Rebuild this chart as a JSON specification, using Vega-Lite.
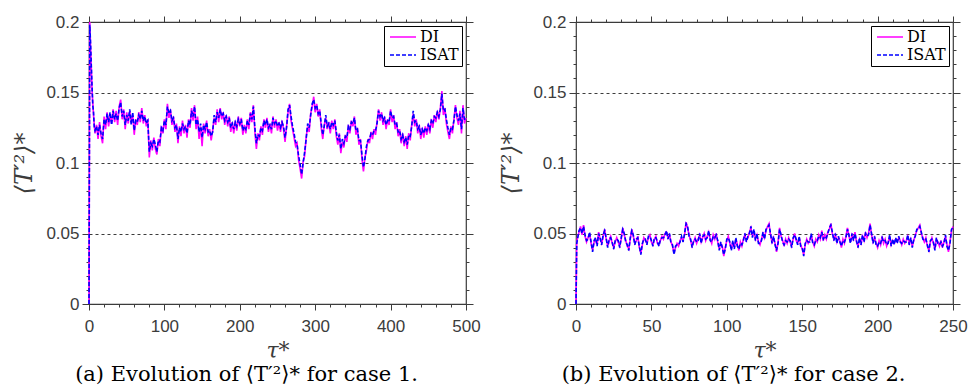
{
"$schema": "https://vega.github.io/schema/vega-lite/v6.json",
"background": "white",
"padding": {"left": 12, "top": 12, "right": 2, "bottom": 2},
"spacing": 110,
"bounds": "flush",
"resolve": {"scale": {"x": "independent", "y": "independent", "color": "independent", "strokeDash": "independent"}, "legend": {"color": "independent", "strokeDash": "independent"}},
"config": {
  "view": {"stroke": "#3a3a3a", "strokeWidth": 1.2},
  "axis": {"domain": false, "labelFont": "Liberation Sans", "labelFontSize": 17, "labelColor": "#3c3c3c", "tickColor": "#3c3c3c", "tickWidth": 1, "gridColor": "#3c3c3c", "gridDash": [3, 3], "gridWidth": 1, "labelOverlap": false, "labelFlush": false, "labelBound": false, "titleColor": "#3c3c3c", "titleFont": "DejaVu Serif", "titleFontWeight": "normal", "titleFontStyle": "italic"},
  "legend": {"orient": "top-right", "offset": 4, "padding": 3, "strokeColor": "black", "fillColor": "white", "labelFont": "DejaVu Serif", "labelFontSize": 16, "labelColor": "black", "symbolType": "M-2,0H2", "symbolSize": 169, "symbolStrokeWidth": 1.5, "symbolOffset": 8, "rowPadding": 2, "labelOffset": 9},
  "title": {"font": "DejaVu Serif", "fontSize": 21, "fontWeight": "normal", "color": "black", "orient": "bottom", "anchor": "middle", "frame": "bounds", "offset": 3}
},
"datasets": {
"caseA": [
{"t":0,"DI":0,"ISAT":0},{"t":1,"DI":0.2,"ISAT":0.198},{"t":2,"DI":0.183,"ISAT":0.186},{"t":3,"DI":0.168,"ISAT":0.17},{"t":4,"DI":0.152,"ISAT":0.155},{"t":5,"DI":0.143,"ISAT":0.141},{"t":6,"DI":0.134,"ISAT":0.136},{"t":7,"DI":0.127,"ISAT":0.125},{"t":8,"DI":0.121,"ISAT":0.123},
{"t":10,"DI":0.127,"ISAT":0.126},{"t":12,"DI":0.117,"ISAT":0.12},{"t":14,"DI":0.129,"ISAT":0.127},{"t":16,"DI":0.119,"ISAT":0.121},{"t":18,"DI":0.114,"ISAT":0.117},{"t":20,"DI":0.133,"ISAT":0.131},{"t":22,"DI":0.124,"ISAT":0.127},{"t":24,"DI":0.136,"ISAT":0.135},{"t":26,"DI":0.126,"ISAT":0.129},{"t":28,"DI":0.134,"ISAT":0.136},
{"t":30,"DI":0.128,"ISAT":0.127},{"t":32,"DI":0.138,"ISAT":0.137},{"t":34,"DI":0.129,"ISAT":0.131},{"t":36,"DI":0.137,"ISAT":0.135},{"t":38,"DI":0.127,"ISAT":0.13},{"t":40,"DI":0.14,"ISAT":0.139},{"t":42,"DI":0.145,"ISAT":0.143},{"t":44,"DI":0.131,"ISAT":0.133},{"t":46,"DI":0.138,"ISAT":0.137},{"t":48,"DI":0.124,"ISAT":0.127},
{"t":50,"DI":0.136,"ISAT":0.134},{"t":52,"DI":0.128,"ISAT":0.13},{"t":54,"DI":0.137,"ISAT":0.138},{"t":56,"DI":0.129,"ISAT":0.127},{"t":58,"DI":0.134,"ISAT":0.136},{"t":60,"DI":0.12,"ISAT":0.123},{"t":62,"DI":0.131,"ISAT":0.13},{"t":64,"DI":0.127,"ISAT":0.129},{"t":66,"DI":0.136,"ISAT":0.134},{"t":68,"DI":0.129,"ISAT":0.131},
{"t":70,"DI":0.139,"ISAT":0.137},{"t":72,"DI":0.128,"ISAT":0.13},{"t":74,"DI":0.134,"ISAT":0.133},{"t":76,"DI":0.126,"ISAT":0.128},{"t":78,"DI":0.131,"ISAT":0.13},{"t":80,"DI":0.104,"ISAT":0.108},{"t":82,"DI":0.116,"ISAT":0.114},{"t":84,"DI":0.109,"ISAT":0.112},{"t":86,"DI":0.118,"ISAT":0.117},{"t":88,"DI":0.11,"ISAT":0.113},
{"t":90,"DI":0.106,"ISAT":0.108},{"t":92,"DI":0.117,"ISAT":0.116},{"t":94,"DI":0.112,"ISAT":0.115},{"t":96,"DI":0.126,"ISAT":0.125},{"t":98,"DI":0.121,"ISAT":0.123},{"t":100,"DI":0.131,"ISAT":0.13},{"t":102,"DI":0.124,"ISAT":0.127},{"t":104,"DI":0.142,"ISAT":0.14},{"t":106,"DI":0.132,"ISAT":0.135},{"t":108,"DI":0.138,"ISAT":0.137},
{"t":110,"DI":0.127,"ISAT":0.13},{"t":112,"DI":0.133,"ISAT":0.132},{"t":114,"DI":0.122,"ISAT":0.125},{"t":116,"DI":0.128,"ISAT":0.127},{"t":118,"DI":0.114,"ISAT":0.117},{"t":120,"DI":0.126,"ISAT":0.125},{"t":122,"DI":0.119,"ISAT":0.122},{"t":124,"DI":0.13,"ISAT":0.128},{"t":126,"DI":0.121,"ISAT":0.124},{"t":128,"DI":0.127,"ISAT":0.126},
{"t":130,"DI":0.118,"ISAT":0.121},{"t":132,"DI":0.131,"ISAT":0.13},{"t":134,"DI":0.125,"ISAT":0.127},{"t":136,"DI":0.139,"ISAT":0.137},{"t":138,"DI":0.13,"ISAT":0.133},{"t":140,"DI":0.141,"ISAT":0.14},{"t":142,"DI":0.124,"ISAT":0.127},{"t":144,"DI":0.133,"ISAT":0.131},{"t":146,"DI":0.117,"ISAT":0.122},{"t":148,"DI":0.126,"ISAT":0.128},
{"t":150,"DI":0.112,"ISAT":0.118},{"t":152,"DI":0.128,"ISAT":0.127},{"t":154,"DI":0.121,"ISAT":0.124},{"t":156,"DI":0.13,"ISAT":0.129},{"t":158,"DI":0.119,"ISAT":0.122},{"t":160,"DI":0.124,"ISAT":0.123},{"t":162,"DI":0.116,"ISAT":0.119},{"t":164,"DI":0.123,"ISAT":0.122},{"t":166,"DI":0.132,"ISAT":0.134},{"t":168,"DI":0.127,"ISAT":0.129},
{"t":170,"DI":0.138,"ISAT":0.136},{"t":172,"DI":0.129,"ISAT":0.132},{"t":174,"DI":0.139,"ISAT":0.138},{"t":176,"DI":0.131,"ISAT":0.133},{"t":178,"DI":0.136,"ISAT":0.135},{"t":180,"DI":0.127,"ISAT":0.13},{"t":182,"DI":0.134,"ISAT":0.133},{"t":184,"DI":0.126,"ISAT":0.129},{"t":186,"DI":0.133,"ISAT":0.132},{"t":188,"DI":0.122,"ISAT":0.125},
{"t":190,"DI":0.129,"ISAT":0.128},{"t":192,"DI":0.121,"ISAT":0.124},{"t":194,"DI":0.13,"ISAT":0.129},{"t":196,"DI":0.123,"ISAT":0.126},{"t":198,"DI":0.133,"ISAT":0.131},{"t":200,"DI":0.126,"ISAT":0.128},{"t":202,"DI":0.132,"ISAT":0.131},{"t":204,"DI":0.12,"ISAT":0.123},{"t":206,"DI":0.127,"ISAT":0.126},{"t":208,"DI":0.121,"ISAT":0.124},
{"t":210,"DI":0.131,"ISAT":0.13},{"t":212,"DI":0.124,"ISAT":0.127},{"t":214,"DI":0.136,"ISAT":0.135},{"t":216,"DI":0.129,"ISAT":0.131},{"t":218,"DI":0.141,"ISAT":0.14},{"t":220,"DI":0.122,"ISAT":0.125},{"t":222,"DI":0.11,"ISAT":0.114},{"t":224,"DI":0.121,"ISAT":0.12},{"t":226,"DI":0.116,"ISAT":0.119},{"t":228,"DI":0.126,"ISAT":0.125},
{"t":230,"DI":0.12,"ISAT":0.123},{"t":232,"DI":0.131,"ISAT":0.13},{"t":234,"DI":0.125,"ISAT":0.127},{"t":236,"DI":0.132,"ISAT":0.131},{"t":238,"DI":0.122,"ISAT":0.125},{"t":240,"DI":0.128,"ISAT":0.127},{"t":242,"DI":0.121,"ISAT":0.124},{"t":244,"DI":0.133,"ISAT":0.132},{"t":246,"DI":0.125,"ISAT":0.128},{"t":248,"DI":0.131,"ISAT":0.13},
{"t":250,"DI":0.123,"ISAT":0.126},{"t":252,"DI":0.129,"ISAT":0.128},{"t":254,"DI":0.122,"ISAT":0.125},{"t":256,"DI":0.13,"ISAT":0.129},{"t":258,"DI":0.124,"ISAT":0.126},{"t":260,"DI":0.115,"ISAT":0.118},{"t":262,"DI":0.126,"ISAT":0.125},{"t":264,"DI":0.136,"ISAT":0.138},{"t":266,"DI":0.142,"ISAT":0.141},{"t":268,"DI":0.13,"ISAT":0.133},
{"t":270,"DI":0.124,"ISAT":0.126},{"t":272,"DI":0.118,"ISAT":0.121},{"t":274,"DI":0.112,"ISAT":0.115},{"t":276,"DI":0.114,"ISAT":0.113},{"t":278,"DI":0.102,"ISAT":0.105},{"t":280,"DI":0.096,"ISAT":0.099},{"t":282,"DI":0.089,"ISAT":0.092},{"t":284,"DI":0.101,"ISAT":0.1},{"t":286,"DI":0.105,"ISAT":0.108},{"t":288,"DI":0.118,"ISAT":0.117},
{"t":290,"DI":0.126,"ISAT":0.128},{"t":292,"DI":0.122,"ISAT":0.125},{"t":294,"DI":0.135,"ISAT":0.134},{"t":296,"DI":0.14,"ISAT":0.142},{"t":298,"DI":0.147,"ISAT":0.145},{"t":300,"DI":0.136,"ISAT":0.139},{"t":302,"DI":0.142,"ISAT":0.141},{"t":304,"DI":0.133,"ISAT":0.135},{"t":306,"DI":0.138,"ISAT":0.137},{"t":308,"DI":0.125,"ISAT":0.128},
{"t":310,"DI":0.117,"ISAT":0.12},{"t":312,"DI":0.127,"ISAT":0.126},{"t":314,"DI":0.132,"ISAT":0.134},{"t":316,"DI":0.124,"ISAT":0.126},{"t":318,"DI":0.129,"ISAT":0.128},{"t":320,"DI":0.121,"ISAT":0.124},{"t":322,"DI":0.13,"ISAT":0.129},{"t":324,"DI":0.124,"ISAT":0.127},{"t":326,"DI":0.131,"ISAT":0.13},{"t":328,"DI":0.119,"ISAT":0.122},
{"t":330,"DI":0.113,"ISAT":0.116},{"t":332,"DI":0.121,"ISAT":0.12},{"t":334,"DI":0.107,"ISAT":0.11},{"t":336,"DI":0.115,"ISAT":0.117},{"t":338,"DI":0.111,"ISAT":0.114},{"t":340,"DI":0.12,"ISAT":0.119},{"t":342,"DI":0.115,"ISAT":0.118},{"t":344,"DI":0.127,"ISAT":0.126},{"t":346,"DI":0.121,"ISAT":0.124},{"t":348,"DI":0.13,"ISAT":0.129},
{"t":350,"DI":0.126,"ISAT":0.128},{"t":352,"DI":0.133,"ISAT":0.132},{"t":354,"DI":0.12,"ISAT":0.123},{"t":356,"DI":0.125,"ISAT":0.124},{"t":358,"DI":0.113,"ISAT":0.116},{"t":360,"DI":0.117,"ISAT":0.116},{"t":362,"DI":0.103,"ISAT":0.106},{"t":364,"DI":0.094,"ISAT":0.097},{"t":366,"DI":0.104,"ISAT":0.103},{"t":368,"DI":0.109,"ISAT":0.112},
{"t":370,"DI":0.117,"ISAT":0.116},{"t":372,"DI":0.114,"ISAT":0.117},{"t":374,"DI":0.122,"ISAT":0.121},{"t":376,"DI":0.117,"ISAT":0.12},{"t":378,"DI":0.124,"ISAT":0.123},{"t":380,"DI":0.12,"ISAT":0.123},{"t":382,"DI":0.129,"ISAT":0.128},{"t":384,"DI":0.138,"ISAT":0.137},{"t":386,"DI":0.13,"ISAT":0.133},{"t":388,"DI":0.136,"ISAT":0.135},
{"t":390,"DI":0.127,"ISAT":0.13},{"t":392,"DI":0.133,"ISAT":0.132},{"t":394,"DI":0.124,"ISAT":0.127},{"t":396,"DI":0.131,"ISAT":0.13},{"t":398,"DI":0.127,"ISAT":0.129},{"t":400,"DI":0.138,"ISAT":0.137},{"t":402,"DI":0.129,"ISAT":0.132},{"t":404,"DI":0.134,"ISAT":0.133},{"t":406,"DI":0.124,"ISAT":0.127},{"t":408,"DI":0.129,"ISAT":0.128},
{"t":410,"DI":0.119,"ISAT":0.122},{"t":412,"DI":0.124,"ISAT":0.123},{"t":414,"DI":0.114,"ISAT":0.117},{"t":416,"DI":0.121,"ISAT":0.12},{"t":418,"DI":0.112,"ISAT":0.115},{"t":420,"DI":0.119,"ISAT":0.118},{"t":422,"DI":0.11,"ISAT":0.113},{"t":424,"DI":0.121,"ISAT":0.12},{"t":426,"DI":0.116,"ISAT":0.119},{"t":428,"DI":0.127,"ISAT":0.126},
{"t":430,"DI":0.135,"ISAT":0.137},{"t":432,"DI":0.126,"ISAT":0.129},{"t":434,"DI":0.131,"ISAT":0.13},{"t":436,"DI":0.121,"ISAT":0.124},{"t":438,"DI":0.127,"ISAT":0.126},{"t":440,"DI":0.117,"ISAT":0.12},{"t":442,"DI":0.125,"ISAT":0.124},{"t":444,"DI":0.118,"ISAT":0.121},{"t":446,"DI":0.126,"ISAT":0.125},{"t":448,"DI":0.12,"ISAT":0.123},
{"t":450,"DI":0.128,"ISAT":0.127},{"t":452,"DI":0.121,"ISAT":0.124},{"t":454,"DI":0.131,"ISAT":0.13},{"t":456,"DI":0.125,"ISAT":0.128},{"t":458,"DI":0.134,"ISAT":0.133},{"t":460,"DI":0.129,"ISAT":0.132},{"t":462,"DI":0.137,"ISAT":0.136},{"t":464,"DI":0.131,"ISAT":0.133},{"t":466,"DI":0.139,"ISAT":0.138},{"t":468,"DI":0.151,"ISAT":0.149},
{"t":470,"DI":0.134,"ISAT":0.137},{"t":472,"DI":0.139,"ISAT":0.138},{"t":474,"DI":0.128,"ISAT":0.131},{"t":476,"DI":0.122,"ISAT":0.125},{"t":478,"DI":0.117,"ISAT":0.12},{"t":480,"DI":0.126,"ISAT":0.125},{"t":482,"DI":0.121,"ISAT":0.124},{"t":484,"DI":0.131,"ISAT":0.13},{"t":486,"DI":0.141,"ISAT":0.14},{"t":488,"DI":0.132,"ISAT":0.134},
{"t":490,"DI":0.127,"ISAT":0.13},{"t":492,"DI":0.137,"ISAT":0.135},{"t":494,"DI":0.121,"ISAT":0.124},{"t":496,"DI":0.141,"ISAT":0.139},{"t":498,"DI":0.128,"ISAT":0.131},{"t":500,"DI":0.132,"ISAT":0.131}
],
"caseB": [
{"t":0,"DI":0,"ISAT":0},{"t":0.5,"DI":0.044,"ISAT":0.043},{"t":1,"DI":0.047,"ISAT":0.046},{"t":2,"DI":0.051,"ISAT":0.052},{"t":3,"DI":0.055,"ISAT":0.054},{"t":4,"DI":0.049,"ISAT":0.05},{"t":5,"DI":0.056,"ISAT":0.055},{"t":6,"DI":0.048,"ISAT":0.049},{"t":7,"DI":0.044,"ISAT":0.045},{"t":8,"DI":0.047,"ISAT":0.046},{"t":9,"DI":0.05,"ISAT":0.051},
{"t":10,"DI":0.043,"ISAT":0.044},{"t":11,"DI":0.038,"ISAT":0.037},{"t":12,"DI":0.044,"ISAT":0.045},{"t":13,"DI":0.046,"ISAT":0.047},{"t":14,"DI":0.042,"ISAT":0.041},{"t":15,"DI":0.051,"ISAT":0.05},{"t":16,"DI":0.046,"ISAT":0.047},{"t":17,"DI":0.043,"ISAT":0.042},{"t":18,"DI":0.048,"ISAT":0.049},{"t":19,"DI":0.053,"ISAT":0.052},
{"t":20,"DI":0.046,"ISAT":0.047},{"t":21,"DI":0.041,"ISAT":0.04},{"t":22,"DI":0.045,"ISAT":0.046},{"t":23,"DI":0.048,"ISAT":0.047},{"t":24,"DI":0.043,"ISAT":0.044},{"t":25,"DI":0.04,"ISAT":0.039},{"t":26,"DI":0.044,"ISAT":0.045},{"t":27,"DI":0.047,"ISAT":0.046},{"t":28,"DI":0.044,"ISAT":0.045},{"t":29,"DI":0.041,"ISAT":0.04},
{"t":30,"DI":0.046,"ISAT":0.047},{"t":31,"DI":0.054,"ISAT":0.053},{"t":32,"DI":0.049,"ISAT":0.05},{"t":33,"DI":0.045,"ISAT":0.044},{"t":34,"DI":0.041,"ISAT":0.042},{"t":35,"DI":0.039,"ISAT":0.038},{"t":36,"DI":0.046,"ISAT":0.047},{"t":37,"DI":0.053,"ISAT":0.052},{"t":38,"DI":0.048,"ISAT":0.049},{"t":39,"DI":0.043,"ISAT":0.042},
{"t":40,"DI":0.045,"ISAT":0.046},{"t":41,"DI":0.048,"ISAT":0.047},{"t":42,"DI":0.04,"ISAT":0.041},{"t":43,"DI":0.036,"ISAT":0.035},{"t":44,"DI":0.042,"ISAT":0.043},{"t":45,"DI":0.047,"ISAT":0.046},{"t":46,"DI":0.045,"ISAT":0.046},{"t":47,"DI":0.043,"ISAT":0.042},{"t":48,"DI":0.047,"ISAT":0.048},{"t":49,"DI":0.049,"ISAT":0.048},
{"t":50,"DI":0.044,"ISAT":0.045},{"t":51,"DI":0.042,"ISAT":0.041},{"t":52,"DI":0.046,"ISAT":0.047},{"t":53,"DI":0.048,"ISAT":0.047},{"t":54,"DI":0.043,"ISAT":0.044},{"t":55,"DI":0.042,"ISAT":0.041},{"t":56,"DI":0.045,"ISAT":0.046},{"t":57,"DI":0.048,"ISAT":0.047},{"t":58,"DI":0.046,"ISAT":0.047},{"t":59,"DI":0.05,"ISAT":0.049},
{"t":60,"DI":0.051,"ISAT":0.052},{"t":61,"DI":0.047,"ISAT":0.046},{"t":62,"DI":0.049,"ISAT":0.05},{"t":63,"DI":0.044,"ISAT":0.043},{"t":64,"DI":0.041,"ISAT":0.042},{"t":65,"DI":0.036,"ISAT":0.035},{"t":66,"DI":0.04,"ISAT":0.041},{"t":67,"DI":0.043,"ISAT":0.042},{"t":68,"DI":0.041,"ISAT":0.042},{"t":69,"DI":0.045,"ISAT":0.044},
{"t":70,"DI":0.047,"ISAT":0.048},{"t":71,"DI":0.045,"ISAT":0.044},{"t":72,"DI":0.049,"ISAT":0.05},{"t":73,"DI":0.058,"ISAT":0.057},{"t":74,"DI":0.054,"ISAT":0.055},{"t":75,"DI":0.049,"ISAT":0.048},{"t":76,"DI":0.045,"ISAT":0.046},{"t":77,"DI":0.041,"ISAT":0.04},{"t":78,"DI":0.044,"ISAT":0.045},{"t":79,"DI":0.047,"ISAT":0.046},
{"t":80,"DI":0.043,"ISAT":0.044},{"t":81,"DI":0.046,"ISAT":0.045},{"t":82,"DI":0.049,"ISAT":0.05},{"t":83,"DI":0.044,"ISAT":0.043},{"t":84,"DI":0.047,"ISAT":0.048},{"t":85,"DI":0.05,"ISAT":0.049},{"t":86,"DI":0.045,"ISAT":0.046},{"t":87,"DI":0.048,"ISAT":0.047},{"t":88,"DI":0.051,"ISAT":0.052},{"t":89,"DI":0.046,"ISAT":0.045},
{"t":90,"DI":0.043,"ISAT":0.044},{"t":91,"DI":0.049,"ISAT":0.048},{"t":92,"DI":0.046,"ISAT":0.047},{"t":93,"DI":0.05,"ISAT":0.049},{"t":94,"DI":0.044,"ISAT":0.045},{"t":95,"DI":0.039,"ISAT":0.038},{"t":96,"DI":0.043,"ISAT":0.044},{"t":97,"DI":0.041,"ISAT":0.04},{"t":98,"DI":0.034,"ISAT":0.035},{"t":99,"DI":0.04,"ISAT":0.039},
{"t":100,"DI":0.045,"ISAT":0.046},{"t":101,"DI":0.048,"ISAT":0.047},{"t":102,"DI":0.043,"ISAT":0.044},{"t":103,"DI":0.039,"ISAT":0.038},{"t":104,"DI":0.044,"ISAT":0.045},{"t":105,"DI":0.04,"ISAT":0.039},{"t":106,"DI":0.046,"ISAT":0.047},{"t":107,"DI":0.042,"ISAT":0.041},{"t":108,"DI":0.038,"ISAT":0.039},{"t":109,"DI":0.044,"ISAT":0.043},
{"t":110,"DI":0.041,"ISAT":0.042},{"t":111,"DI":0.046,"ISAT":0.045},{"t":112,"DI":0.049,"ISAT":0.05},{"t":113,"DI":0.045,"ISAT":0.044},{"t":114,"DI":0.047,"ISAT":0.048},{"t":115,"DI":0.051,"ISAT":0.05},{"t":116,"DI":0.054,"ISAT":0.055},{"t":117,"DI":0.048,"ISAT":0.047},{"t":118,"DI":0.052,"ISAT":0.053},{"t":119,"DI":0.046,"ISAT":0.045},
{"t":120,"DI":0.049,"ISAT":0.05},{"t":121,"DI":0.044,"ISAT":0.043},{"t":122,"DI":0.042,"ISAT":0.043},{"t":123,"DI":0.046,"ISAT":0.045},{"t":124,"DI":0.05,"ISAT":0.051},{"t":125,"DI":0.047,"ISAT":0.046},{"t":126,"DI":0.052,"ISAT":0.053},{"t":127,"DI":0.055,"ISAT":0.054},{"t":128,"DI":0.057,"ISAT":0.056},{"t":129,"DI":0.049,"ISAT":0.05},
{"t":130,"DI":0.044,"ISAT":0.043},{"t":131,"DI":0.047,"ISAT":0.048},{"t":132,"DI":0.043,"ISAT":0.042},{"t":133,"DI":0.037,"ISAT":0.038},{"t":134,"DI":0.044,"ISAT":0.043},{"t":135,"DI":0.054,"ISAT":0.053},{"t":136,"DI":0.048,"ISAT":0.049},{"t":137,"DI":0.045,"ISAT":0.044},{"t":138,"DI":0.041,"ISAT":0.042},{"t":139,"DI":0.046,"ISAT":0.045},
{"t":140,"DI":0.043,"ISAT":0.044},{"t":141,"DI":0.047,"ISAT":0.046},{"t":142,"DI":0.044,"ISAT":0.045},{"t":143,"DI":0.041,"ISAT":0.04},{"t":144,"DI":0.046,"ISAT":0.047},{"t":145,"DI":0.05,"ISAT":0.049},{"t":146,"DI":0.045,"ISAT":0.046},{"t":147,"DI":0.043,"ISAT":0.042},{"t":148,"DI":0.047,"ISAT":0.048},{"t":149,"DI":0.042,"ISAT":0.041},
{"t":150,"DI":0.039,"ISAT":0.04},{"t":151,"DI":0.035,"ISAT":0.034},{"t":152,"DI":0.042,"ISAT":0.043},{"t":153,"DI":0.046,"ISAT":0.045},{"t":154,"DI":0.043,"ISAT":0.044},{"t":155,"DI":0.045,"ISAT":0.044},{"t":156,"DI":0.049,"ISAT":0.05},{"t":157,"DI":0.044,"ISAT":0.043},{"t":158,"DI":0.041,"ISAT":0.042},{"t":159,"DI":0.046,"ISAT":0.045},
{"t":160,"DI":0.044,"ISAT":0.045},{"t":161,"DI":0.049,"ISAT":0.048},{"t":162,"DI":0.046,"ISAT":0.047},{"t":163,"DI":0.052,"ISAT":0.051},{"t":164,"DI":0.045,"ISAT":0.046},{"t":165,"DI":0.049,"ISAT":0.048},{"t":166,"DI":0.046,"ISAT":0.047},{"t":167,"DI":0.051,"ISAT":0.05},{"t":168,"DI":0.053,"ISAT":0.054},{"t":169,"DI":0.057,"ISAT":0.056},
{"t":170,"DI":0.05,"ISAT":0.051},{"t":171,"DI":0.046,"ISAT":0.045},{"t":172,"DI":0.049,"ISAT":0.05},{"t":173,"DI":0.044,"ISAT":0.043},{"t":174,"DI":0.047,"ISAT":0.048},{"t":175,"DI":0.045,"ISAT":0.044},{"t":176,"DI":0.04,"ISAT":0.041},{"t":177,"DI":0.046,"ISAT":0.045},{"t":178,"DI":0.043,"ISAT":0.044},{"t":179,"DI":0.048,"ISAT":0.047},
{"t":180,"DI":0.054,"ISAT":0.053},{"t":181,"DI":0.048,"ISAT":0.049},{"t":182,"DI":0.044,"ISAT":0.043},{"t":183,"DI":0.049,"ISAT":0.05},{"t":184,"DI":0.046,"ISAT":0.045},{"t":185,"DI":0.051,"ISAT":0.05},{"t":186,"DI":0.044,"ISAT":0.045},{"t":187,"DI":0.041,"ISAT":0.04},{"t":188,"DI":0.046,"ISAT":0.047},{"t":189,"DI":0.043,"ISAT":0.042},
{"t":190,"DI":0.048,"ISAT":0.049},{"t":191,"DI":0.045,"ISAT":0.044},{"t":192,"DI":0.051,"ISAT":0.05},{"t":193,"DI":0.047,"ISAT":0.048},{"t":194,"DI":0.05,"ISAT":0.049},{"t":195,"DI":0.057,"ISAT":0.056},{"t":196,"DI":0.049,"ISAT":0.05},{"t":197,"DI":0.044,"ISAT":0.043},{"t":198,"DI":0.047,"ISAT":0.048},{"t":199,"DI":0.043,"ISAT":0.042},
{"t":200,"DI":0.04,"ISAT":0.041},{"t":201,"DI":0.045,"ISAT":0.044},{"t":202,"DI":0.042,"ISAT":0.043},{"t":203,"DI":0.048,"ISAT":0.047},{"t":204,"DI":0.043,"ISAT":0.044},{"t":205,"DI":0.046,"ISAT":0.045},{"t":206,"DI":0.041,"ISAT":0.042},{"t":207,"DI":0.044,"ISAT":0.043},{"t":208,"DI":0.048,"ISAT":0.049},{"t":209,"DI":0.042,"ISAT":0.041},
{"t":210,"DI":0.045,"ISAT":0.046},{"t":211,"DI":0.043,"ISAT":0.042},{"t":212,"DI":0.046,"ISAT":0.047},{"t":213,"DI":0.044,"ISAT":0.043},{"t":214,"DI":0.047,"ISAT":0.048},{"t":215,"DI":0.045,"ISAT":0.044},{"t":216,"DI":0.042,"ISAT":0.043},{"t":217,"DI":0.046,"ISAT":0.045},{"t":218,"DI":0.043,"ISAT":0.044},{"t":219,"DI":0.045,"ISAT":0.044},
{"t":220,"DI":0.048,"ISAT":0.049},{"t":221,"DI":0.043,"ISAT":0.042},{"t":222,"DI":0.046,"ISAT":0.047},{"t":223,"DI":0.041,"ISAT":0.04},{"t":224,"DI":0.045,"ISAT":0.046},{"t":225,"DI":0.049,"ISAT":0.048},{"t":226,"DI":0.052,"ISAT":0.053},{"t":227,"DI":0.054,"ISAT":0.053},{"t":228,"DI":0.056,"ISAT":0.055},{"t":229,"DI":0.05,"ISAT":0.051},
{"t":230,"DI":0.047,"ISAT":0.046},{"t":231,"DI":0.044,"ISAT":0.045},{"t":232,"DI":0.047,"ISAT":0.046},{"t":233,"DI":0.041,"ISAT":0.042},{"t":234,"DI":0.038,"ISAT":0.037},{"t":235,"DI":0.044,"ISAT":0.045},{"t":236,"DI":0.047,"ISAT":0.046},{"t":237,"DI":0.043,"ISAT":0.044},{"t":238,"DI":0.039,"ISAT":0.038},{"t":239,"DI":0.046,"ISAT":0.047},
{"t":240,"DI":0.044,"ISAT":0.043},{"t":241,"DI":0.041,"ISAT":0.042},{"t":242,"DI":0.045,"ISAT":0.044},{"t":243,"DI":0.04,"ISAT":0.041},{"t":244,"DI":0.044,"ISAT":0.043},{"t":245,"DI":0.048,"ISAT":0.049},{"t":246,"DI":0.042,"ISAT":0.041},{"t":247,"DI":0.037,"ISAT":0.038},{"t":248,"DI":0.044,"ISAT":0.043},{"t":249,"DI":0.052,"ISAT":0.053},{"t":250,"DI":0.055,"ISAT":0.054}
]
},
"hconcat": [
{
 "width": 377, "height": 282,
 "title": {"text": "(a) Evolution of ⟨T′²⟩* for case 1."},
 "data": {"name": "caseA"},
 "transform": [{"fold": ["DI", "ISAT"], "as": ["series", "val"]}],
 "layer": [
  {"mark": {"type": "line", "strokeWidth": 1.6},
   "encoding": {
    "x": {"field": "t", "type": "quantitative", "scale": {"domain": [0, 500], "nice": false},
     "axis": {"orient": "bottom", "values": [0,20,40,60,80,100,120,140,160,180,200,220,240,260,280,300,320,340,360,380,400,420,440,460,480,500], "labelExpr": "datum.value % 100 === 0 ? format(datum.value, 'd') : ''", "tickSize": {"condition": {"test": "datum.value % 100 === 0", "value": 6}, "value": 3}, "labelPadding": 8, "grid": false, "title": "τ*", "titleFontSize": 22, "titlePadding": 6}},
    "y": {"field": "val", "type": "quantitative", "scale": {"domain": [0, 0.2], "nice": false},
     "axis": {"orient": "left", "values": [0,0.01,0.02,0.03,0.04,0.05,0.06,0.07,0.08,0.09,0.1,0.11,0.12,0.13,0.14,0.15,0.16,0.17,0.18,0.19,0.2], "labelExpr": "abs(datum.value*20 - round(datum.value*20)) < 0.001 ? format(datum.value, '~g') : ''", "tickSize": {"condition": {"test": "abs(datum.value*20 - round(datum.value*20)) < 0.001", "value": 7}, "value": 3}, "labelPadding": 3, "grid": true, "gridOpacity": {"condition": {"test": "abs(datum.value*20 - round(datum.value*20)) < 0.001", "value": 1}, "value": 0}, "title": "⟨T′²⟩*", "titleFontSize": 24, "titlePadding": 9}},
    "color": {"field": "series", "type": "nominal", "scale": {"domain": ["DI", "ISAT"], "range": ["#ff00ff", "#0000ff"]}, "legend": {"title": null}},
    "strokeDash": {"field": "series", "type": "nominal", "scale": {"domain": ["DI", "ISAT"], "range": [[1, 0], [4, 2]]}, "legend": {"title": null}}
   }},
  {"mark": {"type": "line", "opacity": 0},
   "encoding": {
    "x": {"field": "t", "type": "quantitative", "axis": {"orient": "top", "values": [0,20,40,60,80,100,120,140,160,180,200,220,240,260,280,300,320,340,360,380,400,420,440,460,480,500], "labels": false, "tickSize": {"condition": {"test": "datum.value % 100 === 0", "value": 6}, "value": 3}, "grid": false, "title": null}},
    "y": {"field": "val", "type": "quantitative", "axis": {"orient": "right", "values": [0,0.01,0.02,0.03,0.04,0.05,0.06,0.07,0.08,0.09,0.1,0.11,0.12,0.13,0.14,0.15,0.16,0.17,0.18,0.19,0.2], "labels": false, "tickSize": {"condition": {"test": "abs(datum.value*20 - round(datum.value*20)) < 0.001", "value": 7}, "value": 3}, "grid": false, "title": null}}
   }}
 ],
 "resolve": {"axis": {"x": "independent", "y": "independent"}}
},
{
 "width": 377, "height": 282,
 "title": {"text": "(b) Evolution of ⟨T′²⟩* for case 2."},
 "data": {"name": "caseB"},
 "transform": [{"fold": ["DI", "ISAT"], "as": ["series", "val"]}],
 "layer": [
  {"mark": {"type": "line", "strokeWidth": 1.6},
   "encoding": {
    "x": {"field": "t", "type": "quantitative", "scale": {"domain": [0, 250], "nice": false},
     "axis": {"orient": "bottom", "values": [0,10,20,30,40,50,60,70,80,90,100,110,120,130,140,150,160,170,180,190,200,210,220,230,240,250], "labelExpr": "datum.value % 50 === 0 ? format(datum.value, 'd') : ''", "tickSize": {"condition": {"test": "datum.value % 50 === 0", "value": 6}, "value": 3}, "labelPadding": 8, "grid": false, "title": "τ*", "titleFontSize": 22, "titlePadding": 6}},
    "y": {"field": "val", "type": "quantitative", "scale": {"domain": [0, 0.2], "nice": false},
     "axis": {"orient": "left", "values": [0,0.01,0.02,0.03,0.04,0.05,0.06,0.07,0.08,0.09,0.1,0.11,0.12,0.13,0.14,0.15,0.16,0.17,0.18,0.19,0.2], "labelExpr": "abs(datum.value*20 - round(datum.value*20)) < 0.001 ? format(datum.value, '~g') : ''", "tickSize": {"condition": {"test": "abs(datum.value*20 - round(datum.value*20)) < 0.001", "value": 7}, "value": 3}, "labelPadding": 3, "grid": true, "gridOpacity": {"condition": {"test": "abs(datum.value*20 - round(datum.value*20)) < 0.001", "value": 1}, "value": 0}, "title": "⟨T′²⟩*", "titleFontSize": 24, "titlePadding": 9}},
    "color": {"field": "series", "type": "nominal", "scale": {"domain": ["DI", "ISAT"], "range": ["#ff00ff", "#0000ff"]}, "legend": {"title": null}},
    "strokeDash": {"field": "series", "type": "nominal", "scale": {"domain": ["DI", "ISAT"], "range": [[1, 0], [4, 2]]}, "legend": {"title": null}}
   }},
  {"mark": {"type": "line", "opacity": 0},
   "encoding": {
    "x": {"field": "t", "type": "quantitative", "axis": {"orient": "top", "values": [0,10,20,30,40,50,60,70,80,90,100,110,120,130,140,150,160,170,180,190,200,210,220,230,240,250], "labels": false, "tickSize": {"condition": {"test": "datum.value % 50 === 0", "value": 6}, "value": 3}, "grid": false, "title": null}},
    "y": {"field": "val", "type": "quantitative", "axis": {"orient": "right", "values": [0,0.01,0.02,0.03,0.04,0.05,0.06,0.07,0.08,0.09,0.1,0.11,0.12,0.13,0.14,0.15,0.16,0.17,0.18,0.19,0.2], "labels": false, "tickSize": {"condition": {"test": "abs(datum.value*20 - round(datum.value*20)) < 0.001", "value": 7}, "value": 3}, "grid": false, "title": null}}
   }}
 ],
 "resolve": {"axis": {"x": "independent", "y": "independent"}}
}
]
}
